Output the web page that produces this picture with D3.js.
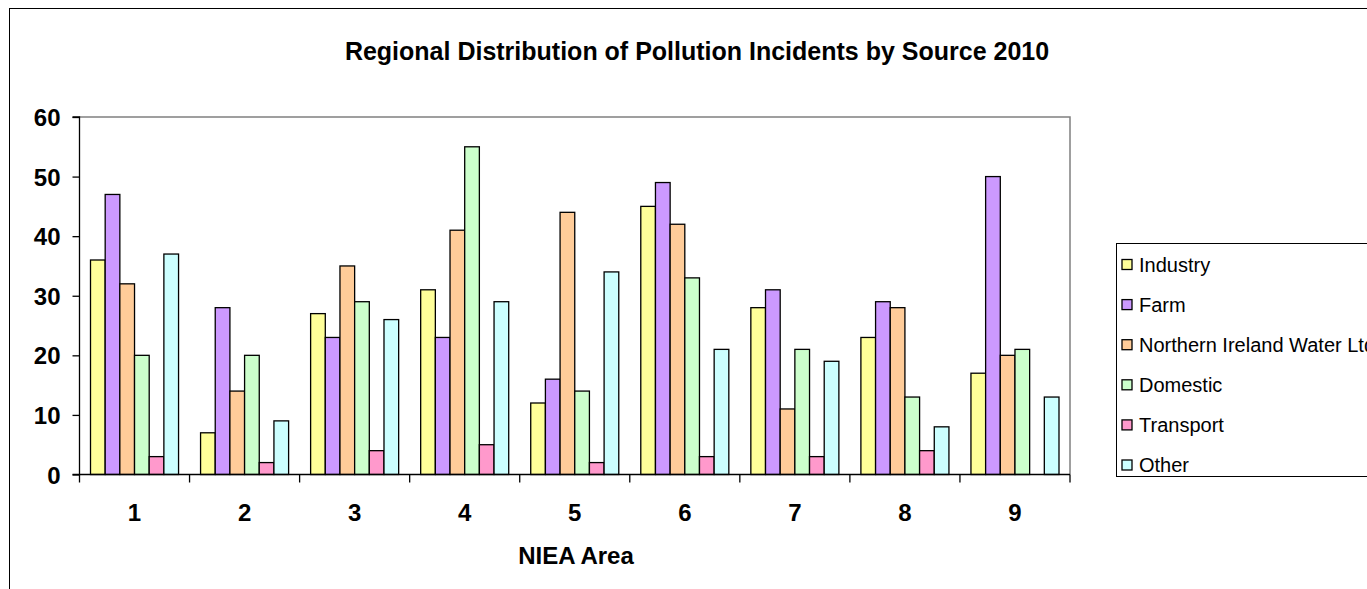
<!DOCTYPE html>
<html><head><meta charset="utf-8">
<script src="https://cdn.jsdelivr.net/npm/d3@7"></script>
<style>
html,body{margin:0;padding:0;background:#fff;}
text{font-family:Arial,"Liberation Sans",sans-serif;}
</style></head>
<body>
<svg id="chart" width="1367" height="589"></svg>
<script>
const categories = ["1","2","3","4","5","6","7","8","9"];
const seriesNames = ["Industry","Farm","Northern Ireland Water Ltd","Domestic","Transport","Other"];
const seriesColors = ["#FFFF99","#CC99FF","#FFCC99","#CCFFCC","#FF99CC","#CCFFFF"];
const industry  = [36, 7,27,31,12,45,28,23,17];
const farm      = [47,28,23,23,16,49,31,29,50];
const niWater   = [32,14,35,41,44,42,11,28,20];
const domestic  = [20,20,29,55,14,33,21,13,21];
const transport = [ 3, 2, 4, 5, 2, 3, 3, 4, 0];
const other     = [37, 9,26,29,34,21,19, 8,13];
const yTicks = [0,10,20,30,40,50,60];
const titleText = "Regional Distribution of Pollution Incidents by Source 2010";
const xTitle = "NIEA Area";

const seriesValues = [industry, farm, niWater, domestic, transport, other];
const svg = d3.select("#chart");

// outer chart border
svg.append("rect").attr("x",9.5).attr("y",8.5).attr("width",1400).attr("height",700)
  .attr("fill","none").attr("stroke","#000").attr("stroke-width",1);

const L=79.5, R=1070, T=117, B=474.5;
const band = (R-L)/categories.length;
const barW = band/7.5;   // gap width 150%
const y = d3.scaleLinear().domain([0,60]).range([B,T]);
const xb = d3.scaleLinear().domain([0,categories.length]).range([L,R]);

// plot area border (gray top/right)
svg.append("path").attr("d",`M${L},${T}H${R}V${B}`).attr("fill","none").attr("stroke","#808080").attr("stroke-width",1.5);

// bars
categories.forEach((c,ci)=>{
  const x0 = xb(ci) + barW*0.75;
  seriesValues.forEach((vals,si)=>{
    const v = vals[ci];
    if (v<=0) return;
    svg.append("rect")
      .attr("x", x0 + si*barW)
      .attr("y", y(v))
      .attr("width", barW)
      .attr("height", y(0)-y(v))
      .attr("fill", seriesColors[si])
      .attr("stroke","#000").attr("stroke-width",1.3);
  });
});

// y axis
const yAxis = d3.axisLeft(y).tickValues(yTicks).tickSize(7).tickPadding(12);
const gy = svg.append("g").attr("transform",`translate(${L},0)`).call(yAxis);
gy.select(".domain").attr("stroke","#000").attr("stroke-width",1.3).attr("d",`M-7,${T}H0V${B}H-7`);
gy.selectAll(".tick line").attr("stroke","#000").attr("stroke-width",1.3);
gy.selectAll(".tick text").attr("font-size","24px").attr("font-weight","bold").attr("fill","#000")
  .attr("font-family","Arial, 'Liberation Sans', sans-serif").attr("dy","0.36em");

// x axis with ticks at band boundaries
const gx = svg.append("g").attr("transform",`translate(0,${B})`);
gx.append("line").attr("x1",L).attr("x2",R).attr("stroke","#000").attr("stroke-width",1.3);
d3.range(categories.length+1).forEach(i=>{
  gx.append("line").attr("x1",xb(i)).attr("x2",xb(i)).attr("y1",0).attr("y2",8).attr("stroke","#000").attr("stroke-width",1.3);
});
categories.forEach((c,i)=>{
  gx.append("text").attr("x",xb(i+0.5)).attr("y",46.5).attr("text-anchor","middle")
    .attr("font-size","24px").attr("font-weight","bold").text(c);
});

// titles
svg.append("text").attr("x",697).attr("y",59.5).attr("text-anchor","middle")
  .attr("font-size","25px").attr("font-weight","bold").text(titleText);
svg.append("text").attr("x",576).attr("y",564).attr("text-anchor","middle")
  .attr("font-size","24px").attr("font-weight","bold").text(xTitle);

// legend
const lg = svg.append("g");
lg.append("rect").attr("x",1116.5).attr("y",243.5).attr("width",300).attr("height",233)
  .attr("fill","#fff").attr("stroke","#000").attr("stroke-width",1);
seriesNames.forEach((n,i)=>{
  const cy = 264.5 + i*40.1;
  lg.append("rect").attr("x",1122).attr("y",cy-5).attr("width",10).attr("height",10)
    .attr("fill",seriesColors[i]).attr("stroke","#000").attr("stroke-width",1.3);
  lg.append("text").attr("x",1139).attr("y",cy+7).attr("font-size","20px").text(n);
});
</script>
</body></html>
